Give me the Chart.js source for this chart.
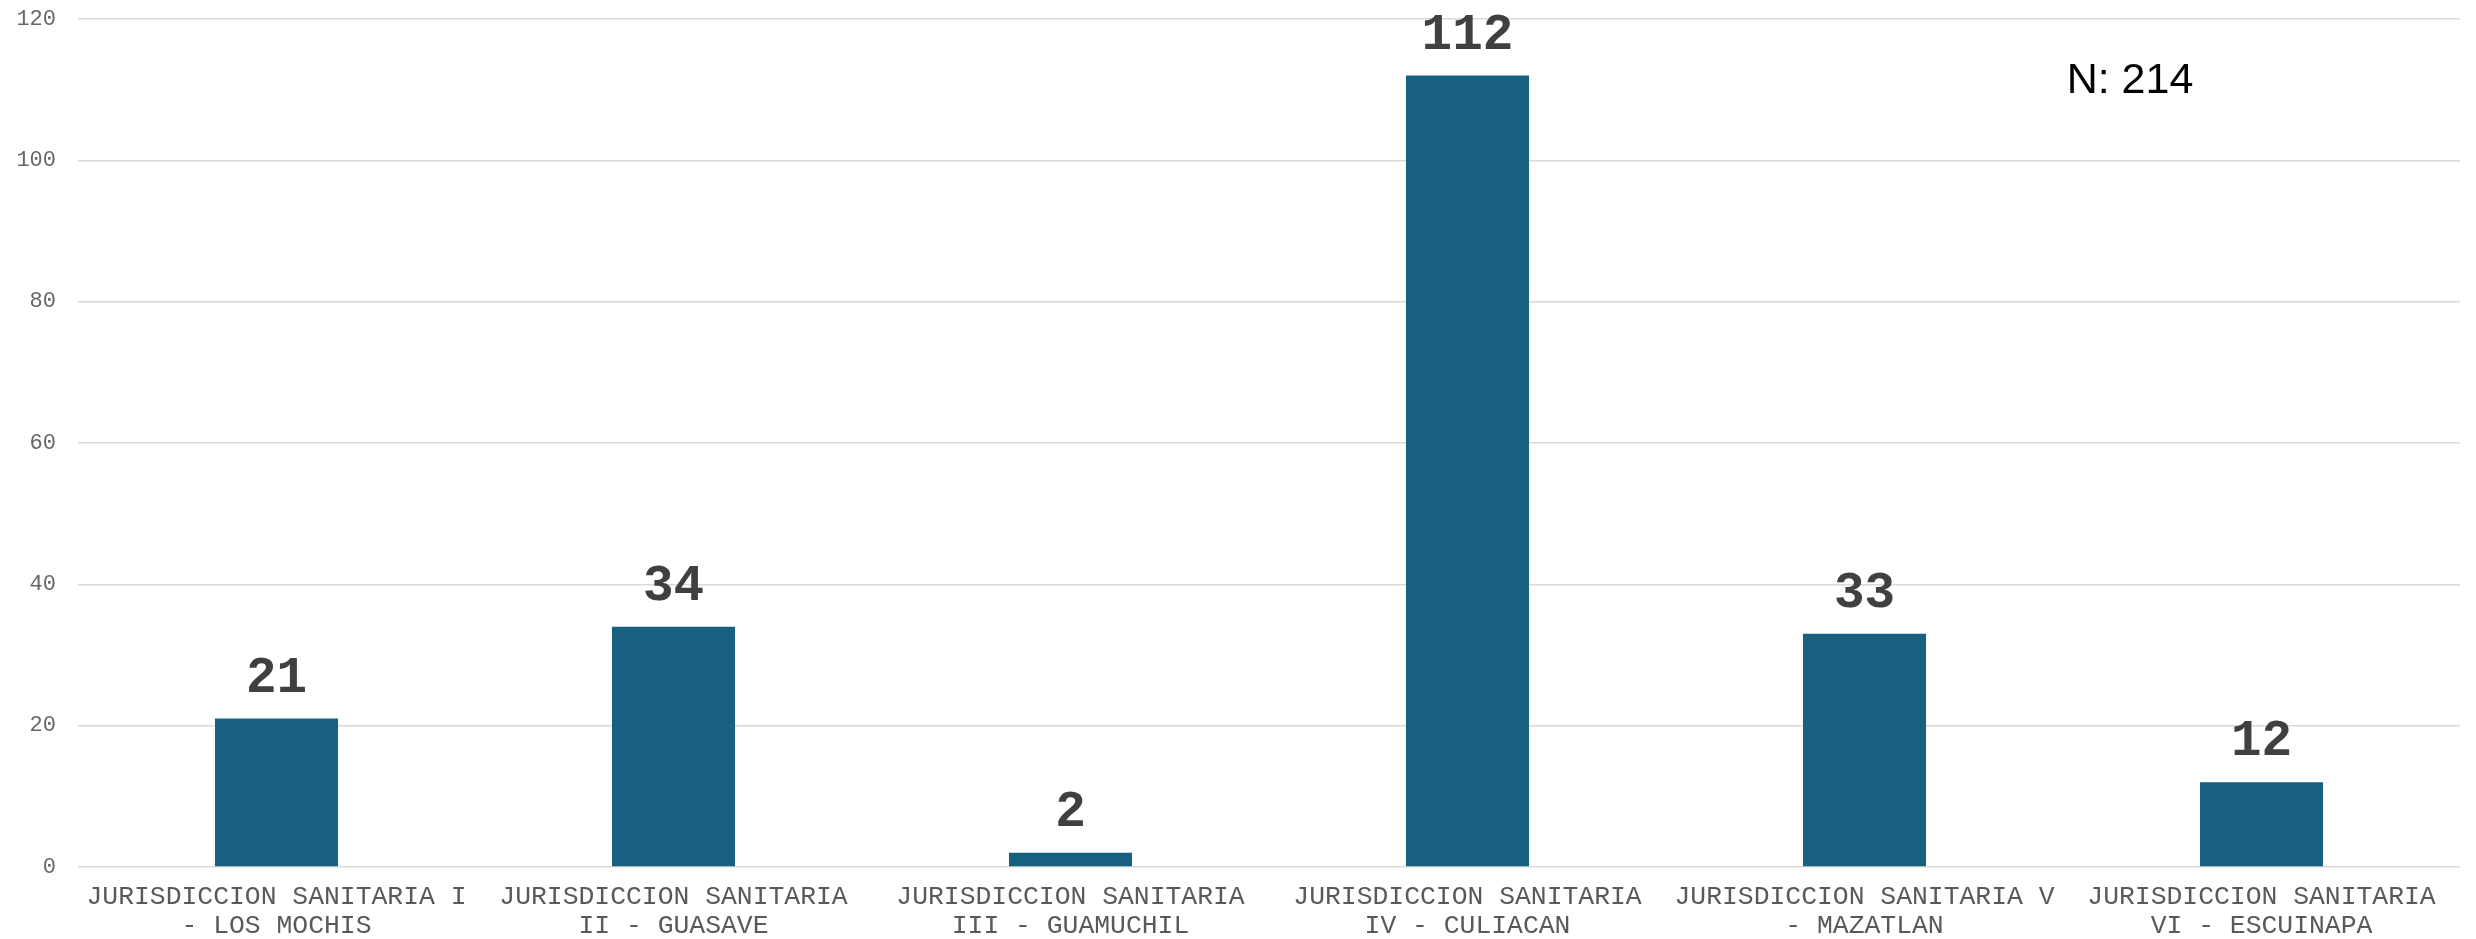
<!DOCTYPE html>
<html>
<head>
<meta charset="utf-8">
<script src="https://cdn.jsdelivr.net/npm/chart.js@4/dist/chart.umd.min.js"></script>
<style>
  html, body { margin: 0; padding: 0; background: #fff; }
</style>
</head>
<body>
<canvas id="chart" width="2476" height="939"></canvas>
<script>
// categories (two lines each, as wrapped in the original axis)
const jurisdicciones = [
  ['JURISDICCION SANITARIA I', '- LOS MOCHIS'],
  ['JURISDICCION SANITARIA', 'II - GUASAVE'],
  ['JURISDICCION SANITARIA', 'III - GUAMUCHIL'],
  ['JURISDICCION SANITARIA', 'IV - CULIACAN'],
  ['JURISDICCION SANITARIA V', '- MAZATLAN'],
  ['JURISDICCION SANITARIA', 'VI - ESCUINAPA']
];
const casos = [21, 34, 2, 112, 33, 12];
const yTicks = [0, 20, 40, 60, 80, 100, 120];
const totalLabel = 'N: 214';

// value labels above bars + the "N:" note
const labelsPlugin = {
  id: 'labels',
  afterDatasetsDraw(chart) {
    const ctx = chart.ctx;
    const meta = chart.getDatasetMeta(0);
    ctx.save();
    ctx.font = 'bold 51px "Liberation Mono", "Courier New", monospace';
    ctx.fillStyle = '#404040';
    ctx.textAlign = 'center';
    ctx.textBaseline = 'alphabetic';
    meta.data.forEach((bar, i) => {
      ctx.fillText(String(casos[i]), bar.x, bar.y - 27);
    });
    ctx.font = '43px "Liberation Sans", Arial, sans-serif';
    ctx.fillStyle = '#000';
    ctx.fillText(totalLabel, 2130, 93);
    ctx.restore();
  }
};

new Chart(document.getElementById('chart'), {
  type: 'bar',
  data: {
    labels: jurisdicciones,
    datasets: [{
      data: casos,
      backgroundColor: '#176080',
      barPercentage: 0.62,
      categoryPercentage: 0.5
    }]
  },
  options: {
    responsive: false,
    animation: false,
    layout: { padding: { left: 16, right: 16, top: 19, bottom: 0 } },
    plugins: {
      legend: { display: false },
      tooltip: { enabled: false }
    },
    scales: {
      x: {
        grid: { display: false, drawTicks: false },
        border: { display: false },
        afterFit(axis) { axis.height = 72; },
        ticks: {
          color: '#595959',
          font: { family: '"Liberation Mono", "Courier New", monospace', size: 26.4, lineHeight: 1.1 },
          padding: 15,
          maxRotation: 0,
          autoSkip: false
        }
      },
      y: {
        min: 0,
        max: 120,
        afterBuildTicks(axis) {
          axis.ticks = yTicks.map(v => ({ value: v }));
        },
        afterFit(axis) {
          axis.width = 62;
          axis.paddingTop = 0;
          axis.paddingBottom = 0;
        },
        grid: { color: '#d9d9d9', lineWidth: 1.5, drawTicks: false },
        border: { display: false },
        ticks: {
          color: '#666666',
          font: { family: '"Liberation Mono", "Courier New", monospace', size: 22 },
          padding: 22
        }
      }
    }
  },
  plugins: [labelsPlugin]
});
</script>
</body>
</html>
